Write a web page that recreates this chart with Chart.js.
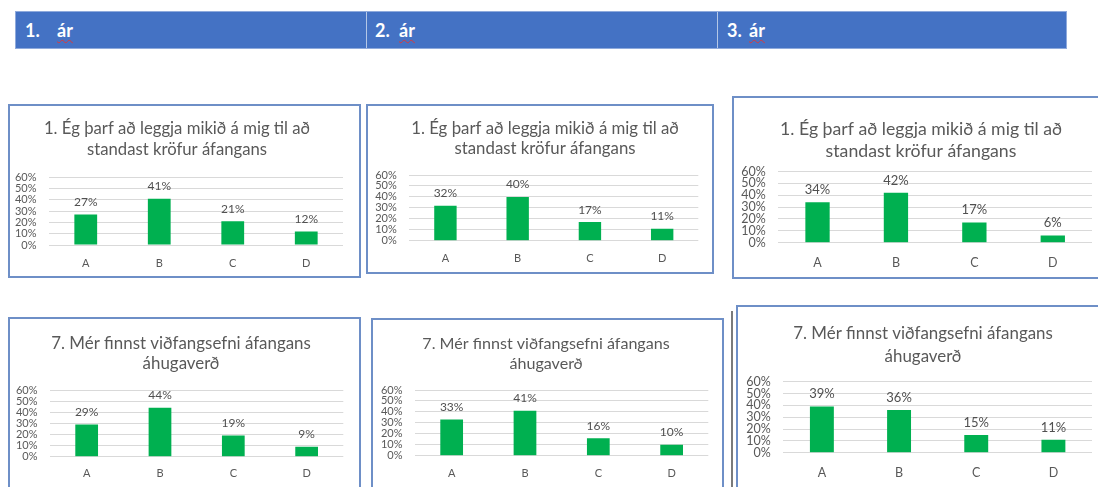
<!DOCTYPE html>
<html><head><meta charset="utf-8">
<script src="https://cdn.jsdelivr.net/npm/chart.js@4.4.1/dist/chart.umd.min.js"></script>
<style>
html,body{margin:0;padding:0;background:#fff;}
body{width:1098px;height:487px;overflow:hidden;position:relative;font-family:Lato,"Noto Sans",sans-serif;}
#hdr{position:absolute;left:15px;top:11px;width:1052px;height:38px;background:#4472C4;border:1px solid #8FAADC;box-sizing:border-box;}
.cell{position:absolute;top:0;height:36px;color:#fff;font-weight:bold;font-size:18px;line-height:36px;white-space:nowrap;}
.cell span{position:absolute;top:0;}
.sq{text-decoration:underline wavy #d9383a;text-decoration-thickness:1px;text-underline-offset:2px;}
.div{position:absolute;top:0;width:1px;height:36px;background:#B4C7E7;}
.panel{position:absolute;}
.frame{position:absolute;border:2px solid #6E8FC7;box-sizing:border-box;pointer-events:none;}
#gline{position:absolute;left:731px;top:311px;width:2px;height:176px;background:#7a7a7a;}
</style></head><body>
<div id="hdr"></div>
<div id="gline"></div>
<script>
// ---- data ----
const categories = ['A', 'B', 'C', 'D'];
const yearHeaders = [['1.', 'ár'], ['2.', 'ár'], ['3.', 'ár']];
const question1Title = ['1. Ég þarf að leggja mikið á mig til að', 'standast kröfur áfangans'];
const question7Title = ['7. Mér finnst viðfangsefni áfangans', 'áhugaverð'];
const q1Year1 = [27, 41, 21, 12];
const q1Year2 = [32, 40, 17, 11];
const q1Year3 = [34, 42, 17, 6];
const q7Year1 = [29, 44, 19, 9];
const q7Year2 = [33, 41, 16, 10];
const q7Year3 = [39, 36, 15, 11];
const yMax = 60;
const yStep = 10;

// ---- layout (page pixels) ----
const headerCells = [
  {left: 0, num: 9, word: 41},
  {left: 351, num: 8, word: 32},
  {left: 701, num: 10, word: 32}
];
const headerDividers = [350, 701];

const panels = [
  {data: q1Year1, title: question1Title, box: [8, 104, 361, 278], plot: [49, 177.3, 343, 245], tcx: 177, t1: 128.7, gap: 21, xlab: 263, ts: 16.7, as: 11, vs: 12},
  {data: q1Year2, title: question1Title, box: [366, 104, 714, 274], plot: [409.3, 175, 698.3, 240.7], tcx: 545, t1: 128.7, gap: 20, xlab: 258.3, ts: 16.8, as: 11, vs: 12},
  {data: q1Year3, title: question1Title, box: [732, 96, 1100, 279], plot: [778.3, 171.5, 1092, 242.7], tcx: 921, t1: 129.5, gap: 21.5, xlab: 262.7, ts: 17.7, as: 12.5, vs: 13},
  {data: q7Year1, title: question7Title, box: [8, 317, 361, 495], plot: [50, 390, 343.3, 456.7], tcx: 181, t1: 343.3, gap: 20, xlab: 473.3, ts: 16.9, as: 11, vs: 12},
  {data: q7Year2, title: question7Title, box: [371, 318, 724, 495], plot: [415, 390, 708.3, 455.7], tcx: 546, t1: 343.3, gap: 20, xlab: 473.3, ts: 16.1, as: 11, vs: 12},
  {data: q7Year3, title: question7Title, box: [736, 305, 1100, 495], plot: [783.3, 381.7, 1092, 452.7], tcx: 923, t1: 333.3, gap: 23.3, xlab: 472.7, ts: 16.9, as: 12.5, vs: 13}
];

const FONT = 'Lato, "Noto Sans", sans-serif';
const TEXT = '#595959';
const GREEN = '#00B050';

// header
const hdr = document.getElementById('hdr');
yearHeaders.forEach((h, i) => {
  const c = document.createElement('div');
  c.className = 'cell';
  c.style.left = headerCells[i].left + 'px';
  c.innerHTML = `<span style="left:${headerCells[i].num}px">${h[0]}</span><span class="sq" style="left:${headerCells[i].word}px">${h[1]}</span>`;
  hdr.appendChild(c);
});
headerDividers.forEach(x => {
  const d = document.createElement('div');
  d.className = 'div';
  d.style.left = x + 'px';
  hdr.appendChild(d);
});

const valueLabels = {
  id: 'valueLabels',
  afterDatasetsDraw(chart, args, opts) {
    const ctx = chart.ctx;
    const meta = chart.getDatasetMeta(0);
    const vals = chart.data.datasets[0].data;
    ctx.save();
    ctx.font = `${opts.size}px ${FONT}`;
    ctx.fillStyle = '#505050';
    ctx.textAlign = 'center';
    ctx.textBaseline = 'middle';
    meta.data.forEach((bar, i) => {
      ctx.fillText(vals[i] + '%', bar.x, bar.y - opts.offset);
    });
    ctx.restore();
  }
};

panels.forEach(p => {
  const [x1, y1, x2, y2] = p.box;
  const W = x2 - x1, H = y2 - y1;
  const [px1, py1, px2, py2] = p.plot;
  const c = p.tcx - x1;
  const pL = px1 - x1, pR = px2 - x1;
  let L = 0, rW = 0, titleRight;
  if (2 * c >= pR) { titleRight = 2 * c; rW = titleRight - pR; }
  else { titleRight = pR; L = 2 * c - pR; }
  const CW = Math.max(W, Math.ceil(titleRight));
  const R = CW - titleRight;
  const yWidth = pL - L;
  const padTop = (p.t1 - y1) - p.gap / 2;
  const padBottom = (py1 - y1) - padTop - 2 * p.gap;
  const xHeight = H - (py2 - y1);
  const xPad = (p.xlab - py2) - p.as * 1.2 / 2;

  const wrap = document.createElement('div');
  wrap.className = 'panel';
  wrap.style.left = x1 + 'px'; wrap.style.top = y1 + 'px';
  wrap.style.width = CW + 'px'; wrap.style.height = H + 'px';
  const cv = document.createElement('canvas');
  cv.width = CW; cv.height = H;
  cv.style.width = CW + 'px'; cv.style.height = H + 'px';
  wrap.appendChild(cv);
  document.body.appendChild(wrap);
  const fr = document.createElement('div');
  fr.className = 'frame';
  fr.style.left = x1 + 'px'; fr.style.top = y1 + 'px';
  fr.style.width = W + 'px'; fr.style.height = H + 'px';
  document.body.appendChild(fr);

  new Chart(cv, {
    type: 'bar',
    data: {
      labels: categories,
      datasets: [{data: p.data, backgroundColor: GREEN, borderWidth: 0, barPercentage: 0.31, categoryPercentage: 1, yAxisID: 'y'}]
    },
    options: {
      responsive: false,
      animation: false,
      devicePixelRatio: 1,
      layout: {padding: {top: 0, left: L, right: R, bottom: 0}},
      plugins: {
        legend: {display: false},
        tooltip: {enabled: false},
        title: {
          display: true, text: p.title, color: TEXT,
          font: {family: FONT, size: p.ts, weight: 'normal', lineHeight: p.gap / p.ts},
          padding: {top: padTop, bottom: padBottom}
        },
        valueLabels: {size: p.vs, offset: 12.3}
      },
      scales: {
        x: {
          grid: {display: false, drawTicks: false},
          border: {display: false},
          ticks: {color: TEXT, font: {family: FONT, size: p.as}, padding: xPad},
          afterFit: s => { s.height = xHeight; }
        },
        y: {
          min: 0, max: yMax,
          grid: {color: '#D9D9D9', drawTicks: false, lineWidth: 1},
          border: {display: false},
          ticks: {stepSize: yStep, autoSkip: false, color: TEXT, font: {family: FONT, size: p.as}, padding: 12.5, callback: v => v + '%'},
          afterFit: s => { s.width = yWidth; }
        },
        spacer: {
          type: 'linear', position: 'right', display: rW > 0.5,
          grid: {display: false, drawTicks: false},
          border: {display: false},
          ticks: {display: false},
          afterFit: s => { s.width = rW; }
        }
      }
    },
    plugins: [valueLabels]
  });
});
</script>
</body></html>
